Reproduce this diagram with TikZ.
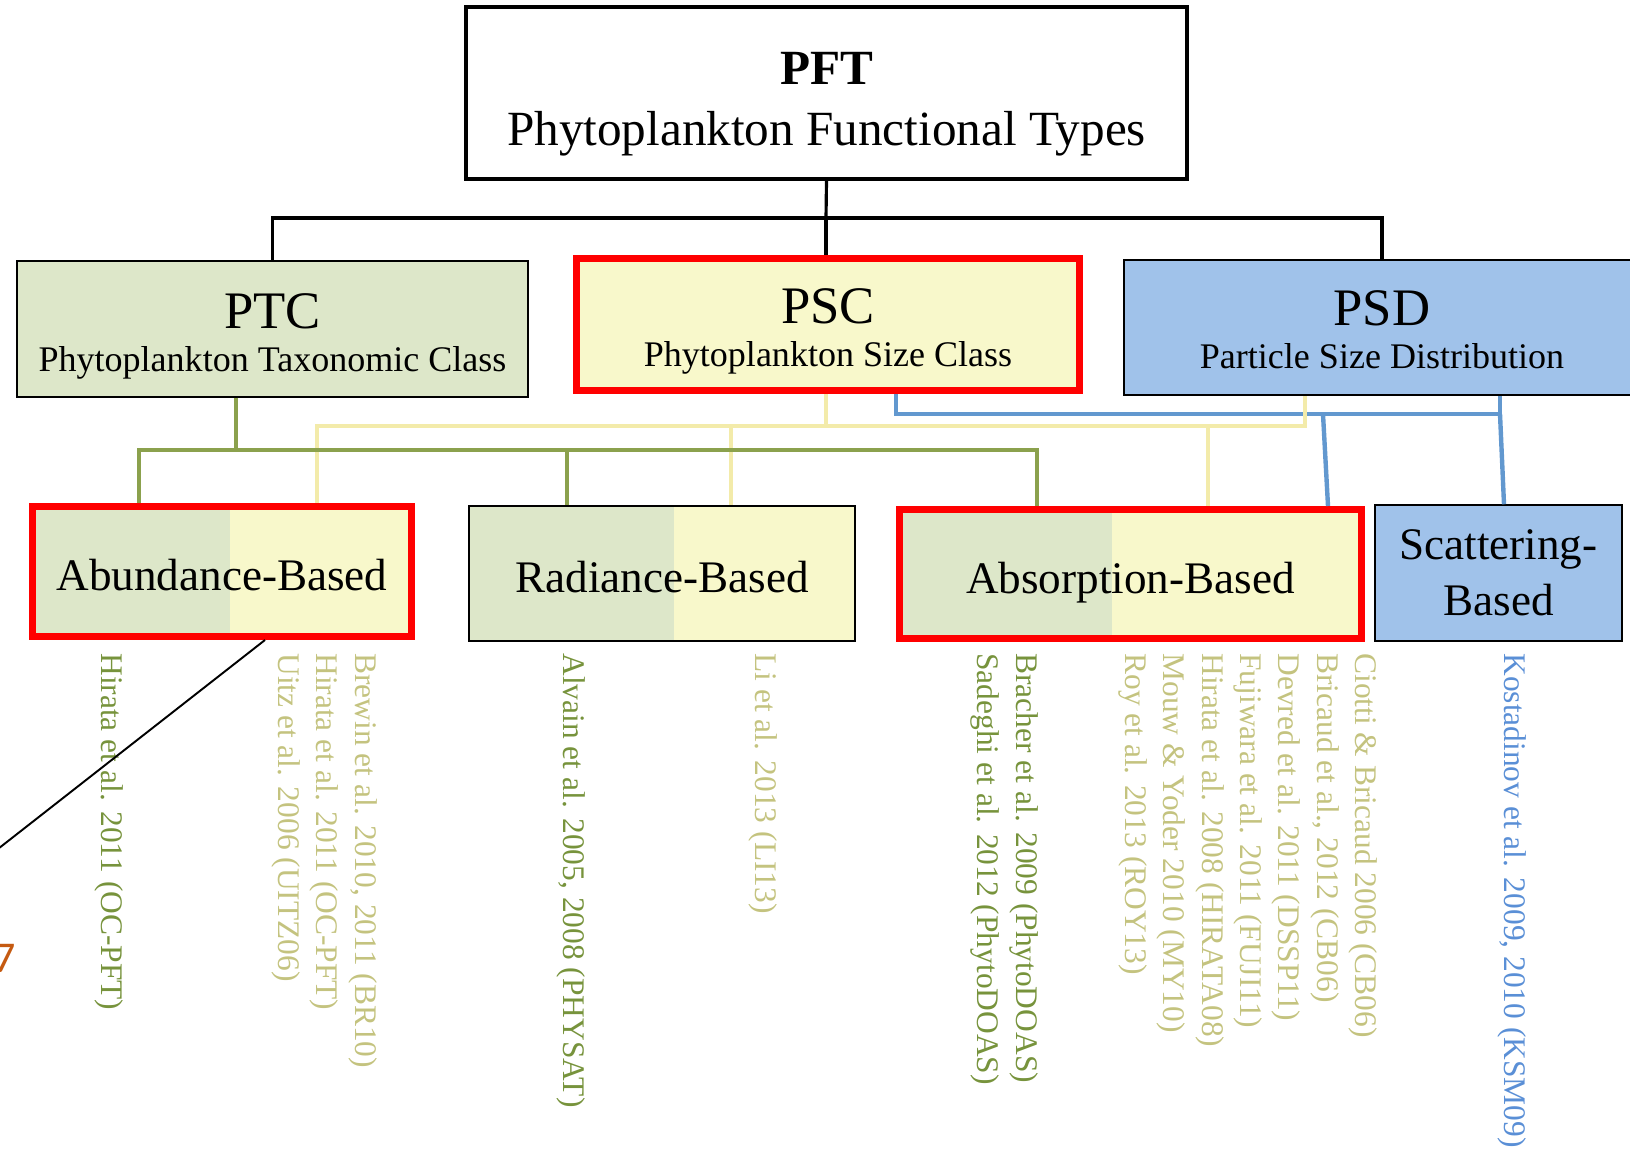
\documentclass[tikz,border=0pt]{standalone}
\usepackage{fontspec}
\setmainfont{Liberation Serif}
\newfontfamily\notefont{Carlito}
\usetikzlibrary{calc}

\definecolor{ptcfill}{HTML}{DDE7C9}
\definecolor{pscfill}{HTML}{F8F8CB}
\definecolor{psdfill}{HTML}{A0C2EA}
\definecolor{ptcline}{HTML}{8BA14D}
\definecolor{pscline}{HTML}{F3EBAA}
\definecolor{psdline}{HTML}{6298CF}
\definecolor{ptctext}{HTML}{77933C}
\definecolor{psctext}{HTML}{C4C37F}
\definecolor{psdtext}{HTML}{5A8FD6}
\definecolor{notecol}{HTML}{C55A11}

\begin{document}
\begin{tikzpicture}[x=0.02cm,y=-0.02cm,
  box/.style={draw=black,line width=0.85pt,inner sep=0pt,align=center},
  redbox/.style={draw=red,line width=4pt,inner sep=0pt,align=center},
  twofill/.style={fill=pscfill,path picture={\fill[ptcfill] (path picture bounding box.south west) rectangle ($(path picture bounding box.north west)!#1!(path picture bounding box.north east)$);}},
  title/.style={anchor=base,inner sep=0pt},
  bigfont/.style={title,font=\fontsize{30}{30}\selectfont},
  subfont/.style={title,font=\fontsize{20.5}{25}\selectfont},
  methfont/.style={font=\fontsize{25.7}{32}\selectfont},
  methline/.style={methfont,text height=22pt,text depth=0pt},
  ref/.style={rotate=-90,anchor=west,inner sep=0pt,align=left,font=\fontsize{17.9}{21.8}\selectfont},
  topline/.style={line width=1.8pt,black},
  conn/.style={line width=2.5pt}]
  \useasboundingbox (0,0) rectangle (1630,1152);

  % top level
  \node[box,line width=2.3pt,minimum width=14.42cm,minimum height=3.44cm] (pft) at (826.5,93) {};
  \node[title,font=\fontsize{28}{32}\selectfont\bfseries] (pftabbr) at (826.5,85) {PFT};
  \node[title,font=\fontsize{28}{32}\selectfont] (pftname) at (826.5,145.5) {Phytoplankton Functional Types};

  % second level
  \node[box,fill=ptcfill,minimum width=10.22cm,minimum height=2.72cm] (ptc) at (272.5,329) {};
  \node[bigfont] (ptcabbr) at (272.5,328.5) {PTC};
  \node[subfont] (ptcname) at (272.5,371) {Phytoplankton Taxonomic Class};

  \node[redbox,fill=pscfill,minimum width=10.06cm,minimum height=2.64cm] (psc) at (828,324.5) {};
  \node[bigfont] (pscabbr) at (828,323.3) {PSC};
  \node[subfont] (pscname) at (828,366) {Phytoplankton Size Class};

  \node[box,fill=psdfill,minimum width=10.32cm,minimum height=2.70cm] (psd) at (1382,327.5) {};
  \node[bigfont] (psdabbr) at (1382,325.4) {PSD};
  \node[subfont] (psdname) at (1382,368) {Particle Size Distribution};

  % methods
  \node[redbox,twofill=0.52,methline,minimum width=7.58cm,minimum height=2.60cm] (abund) at (222,571.5) {Abundance-Based};
  \node[box,twofill=0.53,methline,minimum width=7.72cm,minimum height=2.70cm] (radiance) at (662,573.5) {Radiance-Based};
  \node[redbox,twofill=0.46,methline,minimum width=9.24cm,minimum height=2.58cm] (absorp) at (1130.5,574) {Absorption-Based};
  \node[box,fill=psdfill,methfont,minimum width=4.94cm,minimum height=2.72cm] (scatter) at (1498.5,573) {Scattering-\\Based};

  % references
  \node[ref,text=ptctext] (refabundg) at (109,653) {Hirata et al. 2011 (OC-PFT)};
  \node[ref,text=psctext] (refabundy) at (324.5,653)
    {Brewin et al. 2010, 2011 (BR10)\\Hirata et al. 2011 (OC-PFT)\\Uitz et al. 2006 (UITZ06)};
  \node[ref,text=ptctext] (refradg) at (571,653) {Alvain et al. 2005, 2008 (PHYSAT)};
  \node[ref,text=psctext] (refrady) at (763,653) {Li et al. 2013 (LI13)};
  \node[ref,text=ptctext] (refabsg) at (1004.5,653)
    {Bracher et al. 2009 (PhytoDOAS)\\Sadeghi et al. 2012 (PhytoDOAS)};
  \node[ref,text=psctext] (refabsy) at (1248,653)
    {Ciotti \& Bricaud 2006 (CB06)\\Bricaud et al., 2012 (CB06)\\Devred et al. 2011 (DSSP11)\\Fujiwara et al. 2011 (FUJI11)\\Hirata et al. 2008 (HIRATA08)\\Mouw \& Yoder 2010 (MY10)\\Roy et al. 2013 (ROY13)};
  \node[ref,text=psdtext] (refscat) at (1512,653) {Kostadinov et al. 2009, 2010 (KSM09)};

  \node[anchor=east,inner sep=0pt,text=notecol,font=\notefont\fontsize{25}{25}\selectfont] (note) at (16,958) {7};

  % buses
  \coordinate (topbus) at (826,218);
  \coordinate (psdbus) at (896,414);
  \coordinate (psdknee) at (1500,414);
  \coordinate (pscbus) at (826,426);
  \coordinate (ptcbus) at (236,450);
  \coordinate (offpage) at (-20,863);

  \draw[topline] (pft.south) -- (topbus);
  \draw[topline] (topbus) -| (ptc.north);
  \draw[topline] (topbus) -| (psd.north);
  \draw[topline] (topbus) -- (topbus |- psc.north);

  \draw[line width=1.1pt] (abund.south -| 265,0) -- (offpage);

  \draw[conn,psdline] (psdbus |- psc.south) -- (psdbus) -- (psdknee);
  \draw[conn,psdline] (psdknee) -- (psdknee |- psd.south);
  \draw[conn,psdline] (psdknee) -- (scatter.north -| 1504,0);
  \draw[conn,psdline] (1323,414) -- (absorp.north -| 1328,0);

  \draw[conn,pscline] (pscbus |- psc.south) -- (pscbus);
  \draw[conn,pscline] (pscbus) -| (abund.north -| 317,0);
  \draw[conn,pscline] (pscbus) -| (radiance.north -| 731,0);
  \draw[conn,pscline] (pscbus) -| (absorp.north -| 1208,0);
  \draw[conn,pscline] (pscbus) -| (psd.south -| 1305,0);

  \draw[conn,ptcline] (ptcbus |- ptc.south) -- (ptcbus);
  \draw[conn,ptcline] (ptcbus) -| (abund.north -| 139,0);
  \draw[conn,ptcline] (ptcbus) -| (radiance.north -| 567,0);
  \draw[conn,ptcline] (ptcbus) -| (absorp.north -| 1037,0);
\end{tikzpicture}
\end{document}
